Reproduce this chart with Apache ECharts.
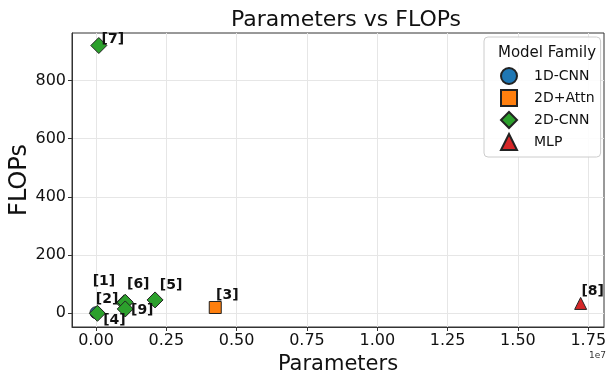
<!DOCTYPE html>
<html lang="en">
<head>
    <meta charset="UTF-8">
    <title>Parameters vs FLOPs</title>
    <script src="https://cdn.jsdelivr.net/npm/echarts@6/dist/echarts.min.js"></script>
    <style>
        body { margin: 0; background: #fff; }
        #chart { width: 606px; height: 376px; }
    </style>
</head>
<body>
    <div id="chart"></div>
    <script>
        // data
        var labels = ['[1]', '[2]', '[3]', '[4]', '[5]', '[6]', '[7]', '[8]', '[9]'];
        var families = ['1D-CNN', '2D-CNN', '2D+Attn', '2D-CNN', '2D-CNN', '2D-CNN', '2D-CNN', 'MLP', '2D-CNN'];
        var params = [0, 1.0e6, 4.24e6, 5e4, 2.1e6, 1.04e6, 1.0e5, 1.723e7, 1.04e6];
        var flops = [2, 36, 20, 0, 46, 38, 920, 34, 15];

        var familyOrder = ['1D-CNN', '2D+Attn', '2D-CNN', 'MLP'];
        var colors = ['#1f77b4', '#ff7f0e', '#2ca02c', '#d62728'];
        var symbols = ['circle', 'rect', 'diamond', 'triangle'];
        var sizes = [12, 12, 16, 12];
        var xTicks = [0, 2.5e6, 5e6, 7.5e6, 1e7, 1.25e7, 1.5e7, 1.75e7];
        var yTicks = [0, 200, 400, 600, 800];

        // label offsets (adjusted text positions)
        var labelOffsets = [[8, -31], [-17, -3], [12, -12], [17, 7], [16, -15], [13, -18], [14, -6], [12, -12], [17, 1]];

        var series = familyOrder.map(function (fam, k) {
            var pts = [];
            for (var i = 0; i < labels.length; i++) {
                if (families[i] !== fam) continue;
                pts.push({
                    value: [params[i], flops[i]],
                    label: { offset: labelOffsets[i], formatter: labels[i] }
                });
            }
            return {
                name: fam,
                type: 'scatter',
                symbol: symbols[k],
                symbolSize: sizes[k],
                itemStyle: { color: colors[k], borderColor: '#222', borderWidth: 1, opacity: 1 },
                label: {
                    show: true,
                    position: 'inside',
                    color: '#111',
                    fontWeight: 'bold',
                    fontSize: 14,
                    fontFamily: 'DejaVu Sans'
                },
                data: pts
            };
        });

        var myChart = echarts.init(document.getElementById('chart'));
        var option = {
            animation: false,
            textStyle: { fontFamily: 'DejaVu Sans' },
            title: [{
                text: 'Parameters vs FLOPs',
                left: 341,
                top: 4,
                textAlign: 'center',
                textStyle: { fontSize: 22, fontWeight: 'normal', color: '#111' }
            }, {
                text: 'Model Family',
                left: 542,
                top: 41,
                textAlign: 'center',
                textStyle: { fontSize: 15, fontWeight: 'normal', color: '#111' }
            }],
            grid: {
                left: 72, right: 2, top: 33, bottom: 49,
                outerBoundsMode: 'none',
                containLabel: false,
                show: true, borderColor: '#333', borderWidth: 1
            },
            legend: {
                orient: 'vertical',
                left: 484,
                top: 37,
                padding: [30, 6, 6, 16],
                itemWidth: 16,
                itemHeight: 16,
                itemGap: 4,
                backgroundColor: 'rgba(255,255,255,0.85)',
                borderColor: '#ccc',
                borderWidth: 1,
                borderRadius: 4,
                textStyle: { fontSize: 14, color: '#111', padding: [0, 0, 0, 12] },
                data: familyOrder
            },
            xAxis: {
                type: 'value',
                min: -853000,
                max: 18060000,
                name: 'Parameters',
                nameLocation: 'middle',
                nameGap: 27,
                nameTextStyle: { fontSize: 21, color: '#111' },
                axisLine: { show: true, onZero: false, lineStyle: { color: '#333' } },
                axisTick: { show: true, length: 4, customValues: xTicks, lineStyle: { color: '#333' } },
                axisLabel: {
                    fontSize: 16, color: '#111', margin: 6,
                    customValues: xTicks,
                    formatter: function (v) { return (v / 1e7).toFixed(2); }
                },
                splitLine: { show: true, lineStyle: { color: '#e6e6e6' } }
            },
            yAxis: {
                type: 'value',
                min: -47,
                max: 963,
                name: 'FLOPs',
                nameLocation: 'middle',
                nameGap: 40,
                nameMoveOverlap: false,
                nameTextStyle: { fontSize: 24, color: '#111' },
                axisLine: { show: true, onZero: false, lineStyle: { color: '#333' } },
                axisTick: { show: true, length: 4, customValues: yTicks, lineStyle: { color: '#333' } },
                axisLabel: { fontSize: 16, color: '#111', margin: 6, customValues: yTicks },
                splitLine: { show: true, lineStyle: { color: '#e6e6e6' } }
            },
            graphic: [{
                type: 'text',
                left: 589,
                top: 351,
                style: { text: '1e7', fontSize: 9, fill: '#333', fontFamily: 'DejaVu Sans' }
            }],
            series: series
        };
        myChart.setOption(option);
    </script>
</body>
</html>
